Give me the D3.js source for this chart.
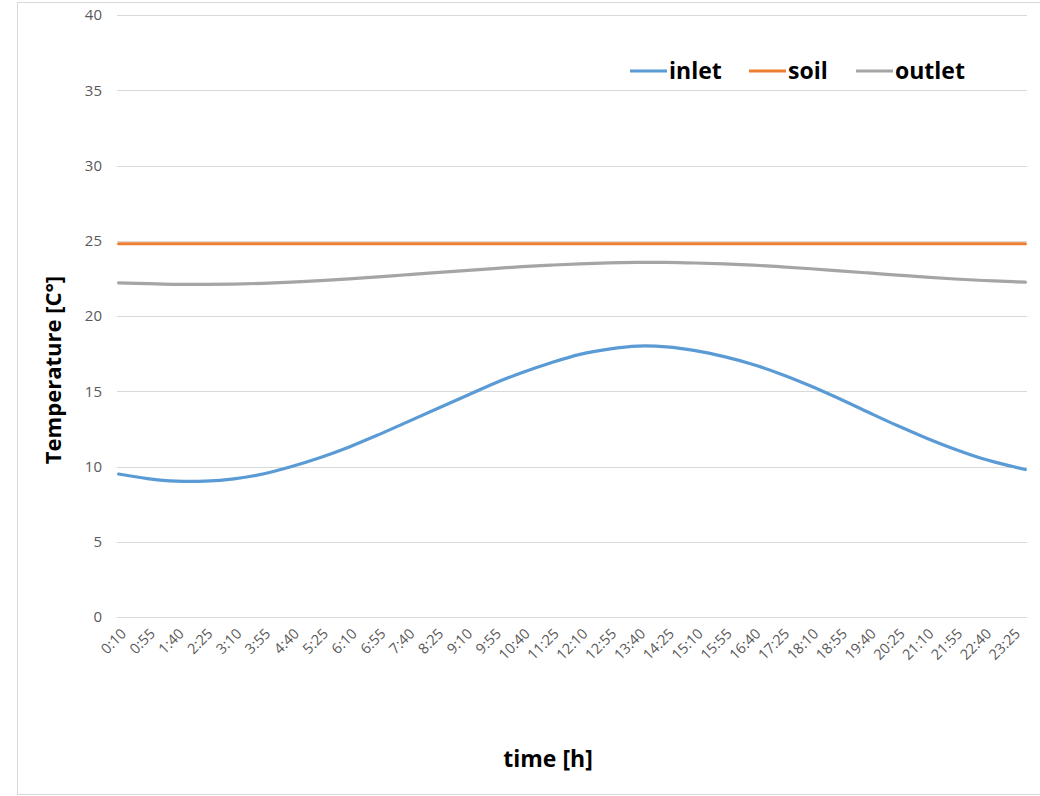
<!DOCTYPE html>
<html><head><meta charset="utf-8">
<script src="https://cdn.jsdelivr.net/npm/d3@7"></script>
<style>
html,body{margin:0;padding:0;background:#fff;}
svg{display:block;font-family:"Open Sans","Noto Sans",sans-serif;}
</style></head>
<body><svg id="c" width="1040" height="796"></svg>
<script>
// ---- data ----
const tickLabels = ["0:10","0:55","1:40","2:25","3:10","3:55","4:40","5:25","6:10","6:55","7:40","8:25","9:10","9:55","10:40","11:25","12:10","12:55","13:40","14:25","15:10","15:55","16:40","17:25","18:10","18:55","19:40","20:25","21:10","21:55","22:40","23:25"];
const times = ["0:10","0:55","1:40","2:25","3:10","3:55","4:40","5:25","6:10","6:55","7:40","8:25","9:10","9:55","10:40","11:25","12:10","12:55","13:40","14:25","15:10","15:55","16:40","17:25","18:10","18:55","19:40","20:25","21:10","21:55","22:40","23:25","23:45"];
const inlet = [9.5,9.2,9.03,9.03,9.18,9.5,10.0,10.6,11.3,12.1,12.95,13.8,14.65,15.5,16.25,16.9,17.45,17.8,18.0,17.95,17.7,17.3,16.78,16.12,15.35,14.5,13.6,12.72,11.9,11.15,10.5,10.0,9.8];
const soil = [24.8,24.8,24.8,24.8,24.8,24.8,24.8,24.8,24.8,24.8,24.8,24.8,24.8,24.8,24.8,24.8,24.8,24.8,24.8,24.8,24.8,24.8,24.8,24.8,24.8,24.8,24.8,24.8,24.8,24.8,24.8,24.8,24.8];
const outlet = [22.2,22.15,22.1,22.1,22.12,22.17,22.25,22.35,22.47,22.6,22.74,22.88,23.02,23.15,23.28,23.38,23.47,23.53,23.56,23.56,23.52,23.46,23.38,23.27,23.14,23.0,22.86,22.72,22.58,22.46,22.36,22.28,22.25];
const yTicks = [0,5,10,15,20,25,30,35,40];
const seriesNames = ["inlet","soil","outlet"];
const seriesColors = ["#5B9BD5","#ED7D31","#A5A5A5"];

const toMin = s => { const [h,m] = s.split(":").map(Number); return h*60+m; };
const svg = d3.select("#c");
const L = 117, R = 1027, T = 15, B = 617;
const step = 5;
const x = d3.scaleLinear()
  .domain([toMin(times[0]) - step/2, toMin(times[times.length-1]) + step/2])
  .range([L, R]);
const y = d3.scaleLinear().domain([0,40]).range([B, T]);

// chart border
svg.append("rect").attr("x",17.5).attr("y",2.5).attr("width",1040).attr("height",792)
  .attr("fill","none").attr("stroke","#d9d9d9").attr("stroke-width",1);

// y gridlines + labels
const ya = d3.axisLeft(y).tickValues(yTicks).tickSize(-(R-L)).tickPadding(15);
const gy = svg.append("g").attr("transform",`translate(${L},0)`).call(ya);
gy.select(".domain").remove();
gy.selectAll(".tick line").attr("stroke","#d9d9d9").attr("shape-rendering","crispEdges");
gy.selectAll(".tick text").attr("fill","#595959").attr("font-size","15px")
  .attr("font-family","'Open Sans',sans-serif");

// x tick labels
const gx = svg.append("g");
gx.selectAll("text").data(tickLabels).join("text")
  .attr("transform", d => `translate(${x(toMin(d))+5},631) rotate(-45)`)
  .attr("text-anchor","end").attr("dy","0.35em")
  .attr("fill","#595959").attr("font-size","14.5px").text(d => d);

// lines
const series = [inlet, soil, outlet];
const line = d3.line().x((d,i) => x(toMin(times[i]))).y(d => y(d)).curve(d3.curveCatmullRom.alpha(0.5));
series.forEach((s,k) => {
  svg.append("path").datum(s).attr("d", line)
    .attr("fill","none").attr("stroke", seriesColors[k]).attr("stroke-width",3.2)
    .attr("stroke-linecap","round").attr("stroke-linejoin","round");
});

// legend
const legX = [630, 749, 856];
const lg = svg.append("g");
seriesNames.forEach((n,k) => {
  lg.append("line").attr("x1",legX[k]).attr("x2",legX[k]+37).attr("y1",71).attr("y2",71)
    .attr("stroke",seriesColors[k]).attr("stroke-width",3.2);
  lg.append("text").attr("x",legX[k]+39).attr("y",79).attr("font-size","23px")
    .attr("font-weight","bold").attr("fill","#000").text(n);
});

// axis titles
svg.append("text").attr("x",548).attr("y",767).attr("text-anchor","middle")
  .attr("font-size","23px").attr("font-weight","bold").attr("fill","#000").text("time [h]");
svg.append("text").attr("transform","translate(61,370) rotate(-90)").attr("text-anchor","middle")
  .attr("font-size","22px").attr("font-weight","bold").attr("fill","#000").text("Temperature [C°]");
</script></body></html>
